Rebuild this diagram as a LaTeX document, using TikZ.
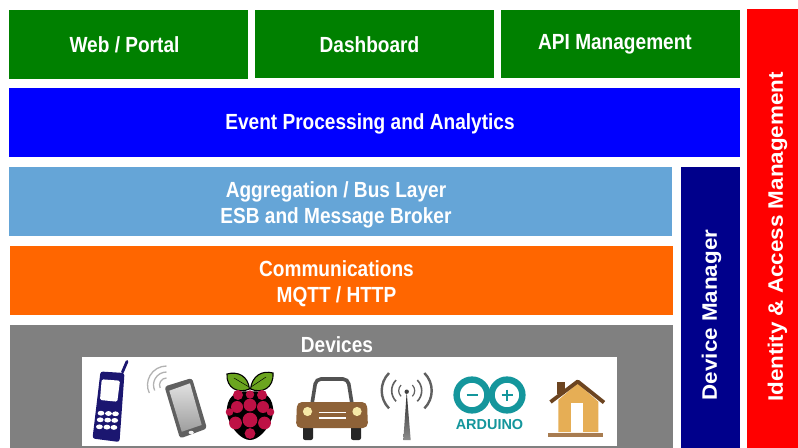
\documentclass[tikz,border=0pt]{standalone}
\usepackage{fontspec}
\setmainfont{Liberation Sans}
\newfontfamily\narrowbold[FakeStretch=0.87]{Liberation Sans Bold}
\newfontfamily\widebold[FakeStretch=1.07]{Liberation Sans Bold}
\usepackage{tikz}
\usetikzlibrary{positioning}
\definecolor{webgreen}{HTML}{008000}
\definecolor{eventblue}{HTML}{0000FF}
\definecolor{busblue}{HTML}{65A5D7}
\definecolor{commorange}{HTML}{FF6600}
\definecolor{devgray}{HTML}{808080}
\definecolor{mgrnavy}{HTML}{00008B}
\definecolor{phonenavy}{HTML}{1B1670}
\definecolor{slate}{HTML}{606060}
\definecolor{leafgreen}{HTML}{6BA51F}
\definecolor{berry}{HTML}{BE1145}
\definecolor{carbrown}{HTML}{8E6238}
\definecolor{lamp}{HTML}{F6E8A6}
\definecolor{arduinoteal}{HTML}{14969C}
\definecolor{wallyellow}{HTML}{E6AE55}
\definecolor{roofbrown}{HTML}{6C4420}
\definecolor{floorbrown}{HTML}{A87C50}
\tikzset{
  layerbox/.style={inner sep=0pt,outer sep=0pt},
  layertext/.style={text=white,font=\narrowbold\fontsize{22}{25}\selectfont,align=center,inner sep=0pt},
  sidetext/.style={text=white,font=\widebold\fontsize{21}{25}\selectfont,rotate=90,inner sep=0pt}
}
\begin{document}
\begin{tikzpicture}[x=1bp,y=-1bp]
\useasboundingbox (0,0) rectangle (798,448);
%top row
\node[layerbox,fill=webgreen,minimum width=239bp,minimum height=69bp] (web) at (128.5,44.5) {};
\node[layerbox,fill=webgreen,minimum width=239bp,minimum height=68bp] (dash) at (374.5,44) {};
\node[layerbox,fill=webgreen,minimum width=239bp,minimum height=68bp] (api) at (620.5,44) {};
\node[layertext] (webtext) at (124.5,44.5) {Web / Portal};
\node[layertext] (dashtext) at (369.5,44.5) {Dashboard};
\node[layertext] (apitext) at (615,44.5) {API Management};
%event layer
\node[layerbox,fill=eventblue,minimum width=731bp,minimum height=69bp] (event) at (374.5,122.5) {};
\node[layertext] (eventtext) at (370,124) {Event Processing and Analytics};
%bus and communications
\node[layerbox,fill=busblue,minimum width=663bp,minimum height=69bp] (bus) at (340.5,201.5) {};
\node[layertext] (bustext) at (336,205) {Aggregation / Bus Layer\\[1.5bp]ESB and Message Broker};
\node[layerbox,fill=commorange,minimum width=663bp,minimum height=69bp] (comm) at (341.5,280.5) {};
\node[layertext] (commtext) at (336.5,283.5) {Communications\\[1.5bp]MQTT / HTTP};
%devices and the picture strip
\node[layerbox,fill=devgray,minimum width=663bp,minimum height=123bp] (dev) at (341.5,386.5) {};
\node[layertext] (devtext) at (337,344.5) {Devices};
\node[layerbox,fill=white,minimum width=535bp,minimum height=89bp] (strip) at (349.5,401.5) {};
%side bars
\node[layerbox,fill=mgrnavy,minimum width=59bp,minimum height=281bp] (mgr) at (710.5,307.5) {};
\node[sidetext] (mgrtext) at (711.5,315) {Device Manager};
\node[layerbox,fill=red,minimum width=51bp,minimum height=439bp] (iam) at (772.5,228.5) {};
\node[sidetext] (iamtext) at (777.5,237) {Identity \& Access Management};
%candy bar phone
\draw[phonenavy,line width=2.8bp,line cap=round] (122.5,372)--(127,361.5);
\fill[phonenavy,rounded corners=2.5bp] (100.5,371.5)--(124.5,373)--(119.5,442)--(92.5,438.5)--cycle;
\fill[white,rounded corners=1.5bp] (101.7,379.3)--(120,380.7)--(117.3,401.7)--(100,400)--cycle;
\foreach \k/\a in {0/0,1/7.5,2/14.5}{
  \fill[white] (101+\a,413.2+\k*.3) ellipse (3.4bp and 2.4bp);
  \fill[white] (100.2+\a,419.8+\k*.3) ellipse (3.4bp and 2.4bp);
  \fill[white] (99.4+\a,426.8+\k*.3) ellipse (3.4bp and 2.4bp);
}
%smart phone
\foreach \r in {7,13,19}{
  \draw[black!30,line width=1.3bp] (166.5,385) ++(270:\r) arc[start angle=270,end angle=155,radius=\r];
}
\fill[slate,rounded corners=3bp] (164.5,386.5)--(192,378)--(207,428.5)--(180,438.5)--cycle;
\shade[top color=black!12,bottom color=black!38] (169.3,390.7)--(190,383.3)--(201.7,425)--(181.7,431.7)--cycle;
\fill[black!5] (191.2,432.5) ellipse (2.6bp and 1.7bp);
%raspberry
\fill[leafgreen,draw=black,line width=1.1bp] (249.5,389) .. controls (238,394) and (226,388) .. (227,374) .. controls (238,371) and (248,376) .. cycle;
\fill[leafgreen,draw=black,line width=1.1bp] (250.5,389) .. controls (262,394) and (274,388) .. (273,373) .. controls (262,370) and (252,376) .. cycle;
\draw[black,line width=.5bp] (249,387)--(234,378); \draw[black,line width=.5bp] (251,387)--(266,377);
\fill[black] (250,392) .. controls (270,388) and (276,405) .. (272,418) .. controls (268,430) and (258,440) .. (250,440) .. controls (242,440) and (232,430) .. (228,418) .. controls (224,405) and (230,388) .. (250,392) -- cycle;
\foreach \bx/\by/\br in {250/394.5/4.2,238/395/5,262/395/5,250/405/6.4,237/407/6,263/407/6,229.5/412/3.8,270.5/412/3.8,250/420/7.4,235.5/423/6.4,264.5/423/6.4,250/433.5/5.4}{
  \fill[berry] (\bx,\by) circle (\br);
}
%car
\draw[slate!85!black,line width=3.6bp,rounded corners=5bp] (312,404)--(316,379)--(348,379)--(352,404);
\fill[black!85,rounded corners=2bp] (303,425) rectangle (313,440);
\fill[black!85,rounded corners=2bp] (351,425) rectangle (361,440);
\fill[carbrown,rounded corners=5bp] (297,402)--(367,402)--(368,428)--(296,428)--cycle;
\fill[lamp] (307.5,411.5) circle (4.6bp);
\fill[lamp] (357,411.5) circle (4.6bp);
\draw[white,line width=1bp] (318.5,412.5)--(345.5,412.5);
\draw[white,line width=2bp] (318.5,417.5)--(345.5,417.5);
%radio mast
\shade[top color=black!85,bottom color=black!45] (406.7,392)--(403.3,440)--(410.7,440)--cycle;
\fill[black!75] (406.7,391.7) circle (2.2bp);
\foreach \r/\w in {8/1.2,15/1.6,25/2.4}{
  \draw[slate,line width=\w bp] (406.7,390.7) ++(-45:\r) arc[start angle=-45,end angle=45,radius=\r];
  \draw[slate,line width=\w bp] (406.7,390.7) ++(135:\r) arc[start angle=135,end angle=225,radius=\r];
}
%arduino
\draw[arduinoteal,line width=6.4bp] (472,395) circle (15.4bp);
\draw[arduinoteal,line width=6.4bp] (507,395) circle (15.4bp);
\draw[arduinoteal,line width=2.8bp] (466.5,395)--(477.5,395);
\draw[arduinoteal,line width=2.8bp] (501.5,395)--(512.5,395) (507,389.5)--(507,400.5);
\node[text=arduinoteal,font=\bfseries\fontsize{14.5}{16}\selectfont,inner sep=0pt] (arduino) at (489.5,425) {ARDUINO};
%house
\fill[roofbrown] (556.7,381.7) rectangle (565,394);
\fill[wallyellow] (558.3,400)--(577.7,383.3)--(598.3,401.7)--(598.3,432)--(558.3,432)--cycle;
\draw[roofbrown,line width=3.8bp,line join=round] (550.5,402)--(577.7,381.5)--(604,402.5);
\fill[white] (571,403.3) rectangle (583.3,432);
\fill[floorbrown] (548.3,432.7) rectangle (603.3,437.3);
\end{tikzpicture}
\end{document}
